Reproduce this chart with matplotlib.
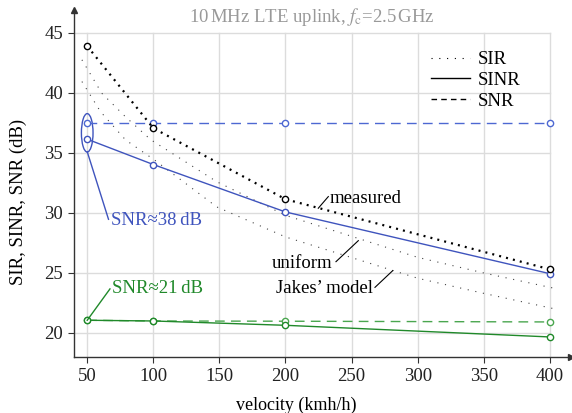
import matplotlib
matplotlib.use('Agg')
import matplotlib.pyplot as plt
from matplotlib.patches import Ellipse

plt.rcParams['font.family'] = ['Liberation Serif', 'DejaVu Serif']
plt.rcParams['mathtext.fontset'] = 'stix'

# data
velocity = [50, 100, 200, 400]

snr38 = [37.45, 37.45, 37.45, 37.45]
sinr38 = [36.14, 34.03, 30.08, 24.94]
sir_measured = [43.89, 37.06, 31.14, 25.3]

snr21 = [21.06, 21.0, 20.98, 20.92]
sinr21 = [21.06, 21.0, 20.64, 19.67]

uniform_v = [46, 61, 79, 98, 148, 200, 300, 350, 400, 404]
uniform_sir = [42.75, 39.97, 38.0, 36.1, 32.6, 29.8, 26.3, 25.0, 23.8, 23.72]
jakes_v = [46, 60, 79, 101, 148, 200, 300, 350, 404]
jakes_sir = [40.94, 38.44, 36.08, 34.4, 30.5, 28.0, 24.56, 23.3, 22.0]

xticks = [50, 100, 150, 200, 250, 300, 350, 400]
yticks = [20, 25, 30, 35, 40, 45]

BLUE = '#3f54bd'
BLUE_L = '#4d68d2'
GREEN = '#20892a'
GREEN_L = '#4aa64f'
GRID = '#dcdcdc'
AXC = '#333333'
FS = 13.5

fig = plt.figure(figsize=(5.72, 4.13), dpi=100)
ax = fig.add_axes([74 / 572, 56 / 413, 497 / 572, 347 / 413])
ax.set_xlim(40, 416)
ax.set_ylim(18, 46.9)

# grid only over the data range
for x in xticks:
    ax.plot([x, x], [18, 45], color=GRID, lw=1, zorder=0)
for y in yticks:
    ax.plot([40, 400], [y, y], color=GRID, lw=1, zorder=0)

mk = dict(marker='o', markersize=4.5, markerfacecolor='white', markeredgewidth=1)
thin_dot = (0, (1, 6))

# model curves
ax.plot(uniform_v, uniform_sir, color='#444444', lw=0.8, linestyle=thin_dot)
ax.plot(jakes_v, jakes_sir, color='#444444', lw=0.8, linestyle=thin_dot)

# SNR ~ 38 dB
ax.plot(velocity, snr38, color=BLUE_L, lw=1, linestyle=(0, (7, 4.5)), **mk)
ax.plot(velocity, sinr38, color=BLUE, lw=1, **mk)
ax.plot(velocity, sir_measured, color='black', lw=1.6, linestyle=(0, (0.9, 2.3)), **mk)

# SNR ~ 21 dB
ax.plot(velocity, snr21, color=GREEN_L, lw=1, linestyle=(0, (7, 4.5)), **mk)
ax.plot(velocity, sinr21, color=GREEN, lw=1, **mk)

ax.add_patch(Ellipse((50, 36.67), width=8.8, height=3.2, fill=False, color=BLUE, lw=1))

# annotations
ax.plot([50, 66.1], [35.1, 29.47], color=BLUE, lw=1)
ax.text(68.1, 29.33, 'SNR≈38\u2009dB', color=BLUE, fontsize=FS, ha='left', va='center')
ax.plot([50, 67.2], [21.06, 23.67], color=GREEN, lw=1)
ax.text(69.1, 23.67, 'SNR≈21\u2009dB', color=GREEN, fontsize=FS, ha='left', va='center')

ax.plot([224.8, 232.4], [30.39, 31.36], color='black', lw=0.8)
ax.text(233.7, 31.2, 'measured', fontsize=FS, ha='left', va='center')
ax.plot([238.2, 255.1], [25.94, 27.69], color='black', lw=0.8)
ax.text(235.7, 25.8, 'uniform', fontsize=FS, ha='right', va='center')
ax.plot([267.7, 281.1], [23.8, 25.19], color='black', lw=0.8)
ax.text(266, 23.72, 'Jakes’ model', fontsize=FS, ha='right', va='center')

# legend
ax.plot([], [], color='black', lw=0.8, linestyle=thin_dot, label='SIR')
ax.plot([], [], color='black', lw=1, label='SINR')
ax.plot([], [], color='black', lw=1, linestyle=(0, (4, 3)), label='SNR')
handles, labels = ax.get_legend_handles_labels()
ax.legend(handles[-3:], labels[-3:], loc='upper left', bbox_to_anchor=(431 / 572, 1 - 51 / 413),
          bbox_transform=fig.transFigure, frameon=False, fontsize=FS, handlelength=2.1,
          handletextpad=0.4, labelspacing=0.2, borderpad=0, borderaxespad=0)

# axes with arrows
for s in ['top', 'right']:
    ax.spines[s].set_visible(False)
for s in ['left', 'bottom']:
    ax.spines[s].set_color(AXC)
    ax.spines[s].set_linewidth(1)
ax.plot(1, 0, '>', color=AXC, markersize=5, transform=ax.transAxes, clip_on=False)
ax.plot(0, 1, '^', color=AXC, markersize=5, transform=ax.transAxes, clip_on=False)

ax.set_xticks(xticks)
ax.set_yticks(yticks)
ax.tick_params(direction='out', length=4, width=0.8, color=AXC, labelsize=FS,
               labelcolor='#222222', pad=4)

fig.text(296 / 572, 1 - 405 / 413, 'velocity (kmh/h)', fontsize=13, ha='center', va='center')
fig.text(18 / 572, 1 - 202 / 413, 'SIR, SINR, SNR (dB)', fontsize=FS, ha='center', va='center',
         rotation=90)
fig.text(312 / 572, 1 - 17 / 413, r'10$\,$MHz LTE uplink, $f_\mathrm{c}$=2.5$\,$GHz',
         fontsize=FS, color='#999999', ha='center', va='center')

fig.savefig('out.png', dpi=100)
